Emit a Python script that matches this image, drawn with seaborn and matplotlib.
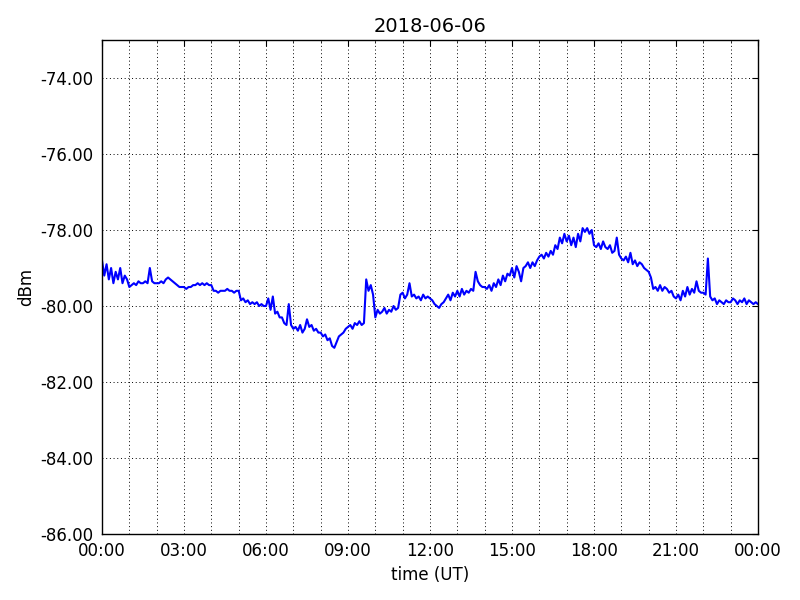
import numpy as np
import pandas as pd
import matplotlib
matplotlib.use("Agg")
import matplotlib.pyplot as plt
import matplotlib.dates as mdates
from matplotlib.ticker import FormatStrFormatter, MultipleLocator
import seaborn as sns

title = "2018-06-06"
start = "2018-06-06 00:00"
end = "2018-06-07 00:00"

# signal level (dBm), one value every 5 minutes, one row per hour
h00 = [-78.8, -79.2, -78.9, -79.3, -79.0, -79.4, -79.1, -79.3, -79.0, -79.4, -79.2, -79.3]
h01 = [-79.5, -79.45, -79.4, -79.45, -79.35, -79.4, -79.4, -79.35, -79.4, -79.0, -79.35, -79.4]
h02 = [-79.4, -79.4, -79.35, -79.4, -79.3, -79.25, -79.3, -79.35, -79.4, -79.45, -79.5, -79.5]
h03 = [-79.5, -79.55, -79.5, -79.5, -79.45, -79.45, -79.4, -79.45, -79.4, -79.45, -79.4, -79.45]
h04 = [-79.45, -79.6, -79.6, -79.65, -79.6, -79.6, -79.6, -79.55, -79.6, -79.6, -79.65, -79.6]
h05 = [-79.6, -79.85, -79.8, -79.9, -79.85, -79.95, -79.9, -79.95, -79.9, -80.0, -79.95, -80.0]
h06 = [-80.0, -79.8, -80.1, -79.75, -80.2, -80.15, -80.3, -80.3, -80.45, -80.5, -79.95, -80.5]
h07 = [-80.6, -80.55, -80.65, -80.5, -80.7, -80.6, -80.35, -80.55, -80.5, -80.65, -80.6, -80.7]
h08 = [-80.7, -80.8, -80.75, -80.9, -80.85, -81.05, -81.1, -80.95, -80.8, -80.75, -80.7, -80.6]
h09 = [-80.55, -80.5, -80.6, -80.45, -80.5, -80.4, -80.5, -80.45, -79.3, -79.6, -79.45, -79.7]
h10 = [-80.3, -80.1, -80.2, -80.15, -80.05, -80.2, -80.1, -80.15, -80.0, -80.1, -80.05, -79.7]
h11 = [-79.65, -79.8, -79.7, -79.4, -79.75, -79.7, -79.8, -79.75, -79.85, -79.7, -79.8, -79.75]
h12 = [-79.8, -79.85, -79.95, -80.0, -80.05, -79.95, -79.9, -79.8, -79.7, -79.85, -79.65, -79.75]
h13 = [-79.6, -79.75, -79.55, -79.7, -79.6, -79.65, -79.55, -79.6, -79.1, -79.35, -79.45, -79.5]
h14 = [-79.5, -79.55, -79.45, -79.6, -79.4, -79.5, -79.3, -79.45, -79.2, -79.35, -79.15, -79.2]
h15 = [-79.0, -79.25, -78.95, -79.1, -79.35, -79.0, -78.95, -78.85, -79.0, -78.85, -78.95, -78.8]
h16 = [-78.7, -78.65, -78.75, -78.6, -78.7, -78.55, -78.65, -78.4, -78.5, -78.2, -78.35, -78.1]
h17 = [-78.3, -78.15, -78.4, -78.2, -78.45, -78.1, -78.3, -77.95, -78.05, -77.95, -78.1, -78.0]
h18 = [-78.4, -78.45, -78.35, -78.5, -78.3, -78.45, -78.5, -78.4, -78.6, -78.55, -78.2, -78.65]
h19 = [-78.75, -78.8, -78.7, -78.85, -78.6, -78.9, -78.8, -78.95, -78.85, -78.9, -79.0, -79.05]
h20 = [-79.1, -79.25, -79.55, -79.5, -79.6, -79.45, -79.6, -79.5, -79.55, -79.65, -79.6, -79.75]
h21 = [-79.8, -79.7, -79.85, -79.6, -79.75, -79.5, -79.7, -79.55, -79.65, -79.35, -79.6, -79.65]
h22 = [-79.65, -79.7, -78.75, -79.75, -79.85, -79.8, -79.95, -79.85, -79.9, -79.95, -79.85, -79.9]
h23 = [-79.9, -79.8, -79.85, -79.95, -79.85, -79.9, -79.8, -79.95, -79.85, -79.9, -79.95, -79.9]
h24 = [-79.95]

levels = (h00 + h01 + h02 + h03 + h04 + h05 + h06 + h07 + h08 + h09 + h10 + h11 +
          h12 + h13 + h14 + h15 + h16 + h17 + h18 + h19 + h20 + h21 + h22 + h23 + h24)
times = pd.date_range(start, end, freq="5min")
df = pd.DataFrame({"time": times, "dBm": levels})

sns.set_style("white")
plt.rcParams["font.family"] = ["DejaVu Sans"]
plt.rcParams["font.size"] = 12
plt.rcParams["text.color"] = "black"
plt.rcParams["axes.labelcolor"] = "black"

fig = plt.figure(figsize=(8, 6), dpi=100, facecolor="white")
ax = fig.add_axes([0.1275, 0.11, 0.82, 0.8233])

sns.lineplot(data=df, x="time", y="dBm", ax=ax, color="blue", linewidth=1.5)

ax.set_xlim(pd.Timestamp(start), pd.Timestamp(end))
ax.set_ylim(-86, -73)
ax.yaxis.set_major_locator(MultipleLocator(2))
ax.yaxis.set_major_formatter(FormatStrFormatter("%.2f"))
ax.xaxis.set_major_locator(mdates.HourLocator(byhour=range(0, 24, 3)))
ax.xaxis.set_minor_locator(mdates.HourLocator())
ax.xaxis.set_major_formatter(mdates.DateFormatter("%H:%M"))

grid_ls = (0, (1, 2.8))
ax.grid(True, which="major", axis="both", color="black", linestyle=grid_ls, linewidth=0.7)
ax.grid(True, which="minor", axis="x", color="black", linestyle=grid_ls, linewidth=0.7)

for s in ax.spines.values():
    s.set_visible(True)
    s.set_color("black")
    s.set_linewidth(1.0)

ax.tick_params(which="major", direction="in", length=4, width=0.8, top=True, right=True,
               labelsize=12, colors="black", pad=6)
ax.tick_params(which="minor", direction="in", length=2, width=0.6, top=True, right=True)

ax.set_xlabel("time (UT)", fontsize=12, color="black")
ax.set_ylabel("dBm", fontsize=12, color="black")
ax.set_title(title, fontsize=14, color="black")

fig.savefig("out.png", dpi=100, facecolor="white")
